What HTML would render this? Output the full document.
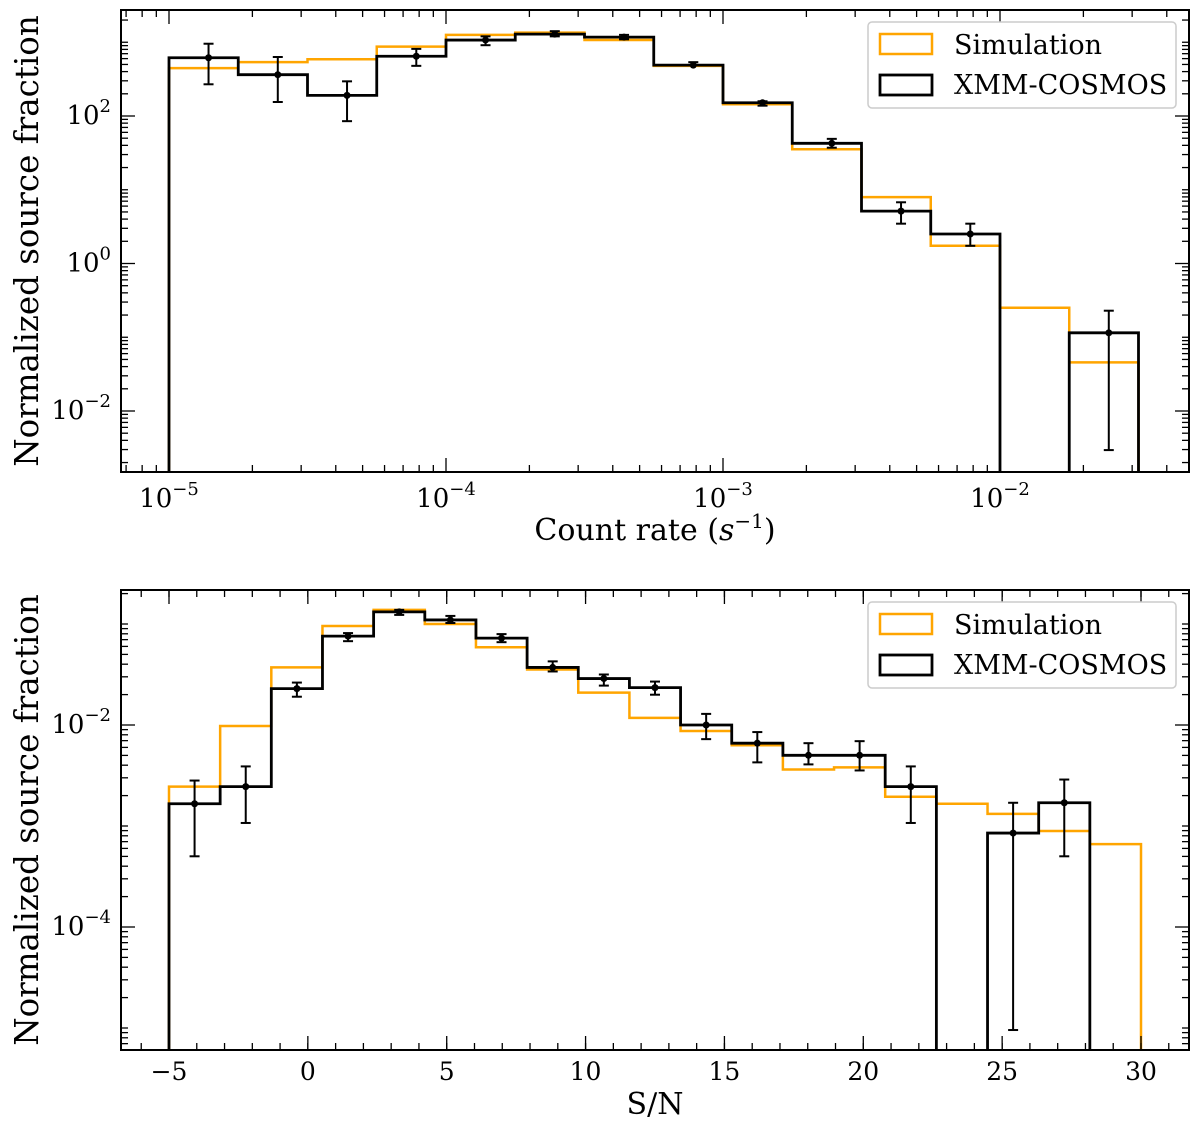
<!DOCTYPE html>
<html><head><meta charset="utf-8">
<style>
body{margin:0;background:#fff;}
svg text{font-family:"DejaVu Serif","Liberation Serif",serif;fill:#000;}
</style></head>
<body>
<svg id="fig" width="1200" height="1118" viewBox="0 0 1200 1118" xmlns="http://www.w3.org/2000/svg"></svg>
<script>
// ---- Top panel data (log10 of normalized source fraction) ----
const topEdgesLog = [-5,-4.75,-4.5,-4.25,-4,-3.75,-3.5,-3.25,-3,-2.75,-2.5,-2.25,-2,-1.75,-1.5];
const topXmmLog = [2.79,2.56,2.28,2.81,3.03,3.11,3.07,2.69,2.18,1.63,0.71,0.40,null,-0.94];
const topSimLog = [2.65,2.73,2.77,2.94,3.10,3.13,3.03,2.68,2.16,1.55,0.90,0.24,-0.60,-1.34];
const topErrHi = [2.98,2.80,2.47,2.91,3.08,3.15,3.10,2.73,2.20,1.69,0.83,0.54,null,-0.64];
const topErrLo = [2.43,2.19,1.93,2.68,2.96,3.08,3.04,2.69,2.14,1.57,0.54,0.24,null,-2.53];
const topXTickLabels = ["-5","-4","-3","-2"];
const topYTickLabels = ["2","0","-2"];
// ---- Bottom panel data ----
const botEdges = [-5,-3.158,-1.316,0.526,2.368,4.211,6.053,7.895,9.737,11.579,13.421,15.263,17.105,18.947,20.789,22.632,24.474,26.316,28.158,30];
const botXmmLog = [-2.78,-2.61,-1.64,-1.12,-0.88,-0.96,-1.14,-1.43,-1.54,-1.63,-2.00,-2.18,-2.30,-2.30,-2.61,null,-3.07,-2.77,null];
const botSimLog = [-2.61,-2.01,-1.43,-1.02,-0.86,-1.00,-1.23,-1.45,-1.68,-1.93,-2.06,-2.20,-2.44,-2.42,-2.71,-2.78,-2.88,-3.05,-3.18];
const botErrHi = [-2.55,-2.41,-1.58,-1.09,-0.86,-0.92,-1.10,-1.37,-1.50,-1.57,-1.89,-2.07,-2.18,-2.16,-2.41,null,-2.77,-2.54,null];
const botErrLo = [-3.30,-2.97,-1.72,-1.17,-0.91,-0.99,-1.18,-1.47,-1.61,-1.70,-2.14,-2.37,-2.39,-2.45,-2.97,null,-5.02,-3.30,null];
const botXTicks = [-5,0,5,10,15,20,25,30];
const botYTickLabels = ["-2","-4"];

const NS="http://www.w3.org/2000/svg";
const svg=document.getElementById('fig');
function mk(tag,attrs,parent){const e=document.createElementNS(NS,tag);for(const k in attrs)e.setAttribute(k,attrs[k]);(parent||svg).appendChild(e);return e;}
function tspan(parent,txt,attrs){const t=mk('tspan',attrs||{},parent);t.textContent=txt;return t;}
const ORANGE="#ffa500";

function panel(P){
  const g=mk('g',{});
  
  
  const clipId=P.name+'-clip';
  const cp=mk('clipPath',{id:clipId},g);
  mk('rect',{x:P.L,y:P.T,width:P.R-P.L,height:P.B-P.T},cp);
  const plot=mk('g',{'clip-path':'url(#'+clipId+')'},g);
  function steps(vals,color,w,nm){
    let d='';const bottom=P.B+5;
    for(let i=0;i<vals.length;i++){
      const x0=P.xs(P.edges[i]),x1=P.xs(P.edges[i+1]);
      const y=vals[i]===null?bottom:P.ys(vals[i]);
      if(i===0)d+='M'+x0+','+bottom+'L'+x0+','+y;else d+='L'+x0+','+y;
      d+='L'+x1+','+y;
      if(i===vals.length-1)d+='L'+x1+','+bottom;
    }
    const p=mk('path',{d:d,fill:'none',stroke:color,'stroke-width':w},plot);
    
    
  }
  steps(P.sim,ORANGE,2.5,'simulation-histogram');
  steps(P.xmm,'#000',2.8,'xmm-cosmos-histogram');
  for(let i=0;i<P.xmm.length;i++){
    if(P.xmm[i]===null)continue;
    const cx=P.xs(P.center(P.edges[i],P.edges[i+1]));
    const eg=mk('g',{},plot);
    
    
    const yh=P.ys(P.hi[i]),yl=P.ys(P.lo[i]);
    mk('line',{x1:cx,x2:cx,y1:yh,y2:yl,stroke:'#000','stroke-width':2},eg);
    mk('line',{x1:cx-5,x2:cx+5,y1:yh,y2:yh,stroke:'#000','stroke-width':2},eg);
    mk('line',{x1:cx-5,x2:cx+5,y1:yl,y2:yl,stroke:'#000','stroke-width':2},eg);
    mk('circle',{cx:cx,cy:P.ys(P.xmm[i]),r:3.5,fill:'#000'},eg);
  }
  const tg=mk('g',{},g);
  function tick(x1,y1,x2,y2){mk('line',{x1:x1,y1:y1,x2:x2,y2:y2,stroke:'#000','stroke-width':1.3},tg);}
  P.xmaj.forEach(v=>{const x=P.xs(v);tick(x,P.B,x,P.B-14);tick(x,P.T,x,P.T+14);});
  P.xmin.forEach(v=>{const x=P.xs(v);if(x>P.L&&x<P.R){tick(x,P.B,x,P.B-7);tick(x,P.T,x,P.T+7);}});
  P.ymaj.forEach(v=>{const y=P.ys(v);if(y>=P.T&&y<=P.B){tick(P.L,y,P.L+14,y);tick(P.R,y,P.R-14,y);}});
  P.ymin.forEach(v=>{const y=P.ys(v);if(y>P.T&&y<P.B){tick(P.L,y,P.L+7,y);tick(P.R,y,P.R-7,y);}});
  mk('rect',{x:P.L,y:P.T,width:P.R-P.L,height:P.B-P.T,fill:'none',stroke:'#000','stroke-width':2},g);
  const lg=mk('g',{},g);
  
  
  mk('rect',{x:868,y:P.T+12,width:308,height:86,rx:4,fill:'#fff',stroke:'#ccc','stroke-width':1.5},lg);
  mk('rect',{x:880,y:P.T+24,width:52,height:20,fill:'none',stroke:ORANGE,'stroke-width':2.5},lg);
  mk('rect',{x:880,y:P.T+65,width:52,height:20,fill:'none',stroke:'#000','stroke-width':2.8},lg);
  const t1=mk('text',{x:954,y:P.T+44,'font-size':27},lg);t1.textContent='Simulation';
  
  const t2=mk('text',{x:954,y:P.T+84,'font-size':27},lg);t2.textContent='XMM-COSMOS';
  
  const yl=mk('text',{x:0,y:0,'font-size':32.5,'text-anchor':'middle',transform:'translate(38,'+((P.T+P.B)/2)+') rotate(-90)'},g);
  yl.textContent='Normalized source fraction';
  
  return g;
}

const tL=121,tR=1189,tT=10,tB=472;
const txs=v=>169+(v+5)*277, tys=v=>116-(v-2)*73.75;
const txmin=[];for(let d=-6;d<=-2;d++)for(let k=2;k<=9;k++)txmin.push(d+Math.log10(k));
const tymin=[];for(let d=-4;d<=3;d++){for(let k=2;k<=9;k++)tymin.push(d+Math.log10(k));if(Math.abs(d)%2===1)tymin.push(d);}
const tymaj=[-2,0,2];
const topG=panel({name:'top-panel',L:tL,R:tR,T:tT,B:tB,xs:txs,ys:tys,edges:topEdgesLog,xmm:topXmmLog,sim:topSimLog,hi:topErrHi,lo:topErrLo,
  center:(a,b)=>Math.log10((Math.pow(10,a)+Math.pow(10,b))/2),
  xmaj:[-5,-4,-3,-2],xmin:txmin,ymaj:tymaj,ymin:tymin});
topXTickLabels.forEach(s=>{const v=+s;const t=mk('text',{x:txs(v),y:tB+35,'font-size':26,'text-anchor':'middle'},topG);
  
  tspan(t,'10');tspan(t,'\u2212'+Math.abs(v),{dy:-12,'font-size':18});});
topYTickLabels.forEach(s=>{const v=+s;const t=mk('text',{x:tL-10,y:tys(v)+8,'font-size':26,'text-anchor':'end'},topG);
  
  tspan(t,'10');tspan(t,(v<0?'\u2212'+(-v):String(v)),{dy:-12,'font-size':18});});
const txl=mk('text',{x:655,y:540,'font-size':30,'text-anchor':'middle'},topG);

tspan(txl,'Count rate (');tspan(txl,'s',{'font-style':'italic'});tspan(txl,'\u22121',{dy:-12,'font-size':20});tspan(txl,')',{dy:12});

const bL=121,bR=1189,bT=590,bB=1050;
const bxs=v=>169+(v+5)*(1141-169)/35, bys=v=>725-(v+2)*101;
const bxmin=[];for(let v=-6;v<=31;v++)bxmin.push(v);
const bymin=[];for(let d=-6;d<=0;d++){for(let k=2;k<=9;k++)bymin.push(d+Math.log10(k));if(Math.abs(d)%2===1)bymin.push(d);}
const bymaj=[-4,-2];
const botG=panel({name:'bottom-panel',L:bL,R:bR,T:bT,B:bB,xs:bxs,ys:bys,edges:botEdges,xmm:botXmmLog,sim:botSimLog,hi:botErrHi,lo:botErrLo,
  center:(a,b)=>(a+b)/2,
  xmaj:botXTicks,xmin:bxmin,ymaj:bymaj,ymin:bymin});
botXTicks.forEach(v=>{const t=mk('text',{x:bxs(v),y:bB+30,'font-size':25,'text-anchor':'middle'},botG);
  
  t.textContent=v<0?'\u2212'+(-v):String(v);});
botYTickLabels.forEach(s=>{const v=+s;const t=mk('text',{x:bL-10,y:bys(v)+8,'font-size':26,'text-anchor':'end'},botG);
  
  tspan(t,'10');tspan(t,'\u2212'+(-v),{dy:-12,'font-size':18});});
const bxl=mk('text',{x:655,y:1114,'font-size':30,'text-anchor':'middle'},botG);

bxl.textContent='S/N';
</script>
</body></html>
